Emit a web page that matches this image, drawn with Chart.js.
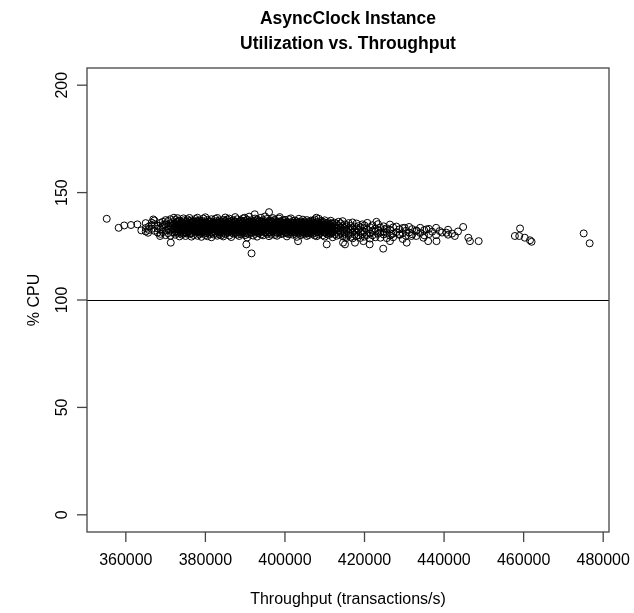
<!DOCTYPE html>
<html>
<head>
<meta charset="utf-8">
<script src="https://cdn.jsdelivr.net/npm/chart.js@4/dist/chart.umd.min.js"></script>
<style>
html,body{margin:0;padding:0;background:#fff;}
canvas{display:block;}
</style>
</head>
<body>
<canvas id="c" width="634" height="613"></canvas>
<script>
// ---- Data (throughput in thousands of transactions/s, CPU in %) ----
const titleLines = ["AsyncClock Instance", "Utilization vs. Throughput"];
const xAxisTitle = "Throughput (transactions/s)";
const yAxisTitle = "% CPU";
const xTickValues = [360000, 380000, 400000, 420000, 440000, 460000, 480000];
const yTickValues = [0, 50, 100, 150, 200];
const referenceCpu = 100;

// Isolated / edge samples: throughput (k tx/s)
const outlierThroughputK = [355.2, 358.2, 359.6, 361.3, 362.9, 363.9, 365.6, 366.9, 368.6, 371.3, 369.8, 372.1,
  391.6, 390.3, 396.0, 392.4, 389.9, 398.7, 403.3, 407.9, 410.5, 414.6, 415.1,
  424.7, 415.1, 417.6, 421.3, 423.0, 430.6, 431.8, 433.1, 435.6, 436.0, 438.1, 438.9, 440.6, 442.7, 444.8,
  434.8, 428.9, 430.1, 426.8, 425.1, 419.7, 426.4, 446.1,
  446.5, 448.7, 459.1, 457.8, 458.9, 460.3, 461.6, 462.0, 475.1, 476.6];
// Isolated / edge samples: CPU (%)
const outlierCpu = [137.8, 133.6, 134.7, 134.9, 135.2, 132.4, 131.3, 137.5, 129.8, 126.7, 135.2, 138.3,
  121.7, 125.9, 140.9, 139.9, 138.3, 138.6, 127.4, 138.3, 125.9, 126.7, 129.3,
  123.9, 125.9, 126.7, 125.9, 136.4, 126.7, 129.8, 132.1, 132.9, 127.4, 127.4, 132.1, 131.3, 129.8, 134.0,
  129.0, 130.6, 133.6, 130.6, 132.9, 127.4, 127.4, 129.0,
  127.4, 127.4, 133.3, 129.8, 129.8, 129.0, 127.8, 127.1, 131.0, 126.4];

// Main cloud: each row = [throughput (k tx/s), CPU %, CPU %, ...]
const cloudRows = [
  [365.0, 133.5, 135.8, 131.9],
  [365.8, 134.2, 132.6],
  [366.5, 136.0, 133.1, 134.8],
  [367.2, 132.2, 135.3, 137.0],
  [368.0, 134.6, 131.4, 133.3],
  [368.7, 135.9, 132.8, 130.8],
  [369.3, 133.9, 136.4, 131.6, 134.9],
  [370.0, 132.4, 135.1, 137.2, 130.2],
  [370.6, 134.3, 136.8, 131.1, 133.0],
  [371.2, 135.7, 132.7, 129.9, 134.6, 137.6],
  [371.8, 133.6, 131.5, 136.1, 134.9],
  [372.4, 130.4, 135.2, 137.3, 132.9, 134.1],
  [373.0, 133.4, 136.5, 131.2, 138.1, 134.7],
  [373.5, 129.6, 132.5, 135.6, 133.9, 137.0],
  [374.0, 134.2, 131.7, 136.3, 130.5, 133.1],
  [374.5, 135.4, 132.9, 138.0, 134.5, 130.9, 137.1],
  [375.0, 133.7, 131.3, 136.0, 134.8, 129.8, 132.4],
  [375.5, 137.5, 134.1, 131.9, 135.7, 133.0],
  [376.0, 130.7, 133.5, 136.8, 132.1, 134.9, 138.2],
  [376.5, 134.4, 131.0, 135.9, 133.2, 137.0, 129.5],
  [377.0, 132.8, 135.5, 130.3, 134.0, 136.6, 133.1],
  [377.5, 131.6, 137.7, 134.7, 132.4, 135.2],
  [378.0, 133.9, 129.9, 136.4, 131.8, 134.5, 138.3],
  [378.5, 135.8, 132.2, 130.6, 134.2, 137.1, 133.4],
  [379.0, 131.3, 134.8, 136.9, 133.0, 129.4, 135.6],
  [379.5, 133.6, 137.9, 131.9, 134.9, 132.6],
  [380.0, 136.2, 130.2, 133.3, 135.1, 132.0, 138.5],
  [380.5, 134.0, 131.2, 137.3, 133.7, 135.8, 129.7],
  [381.0, 132.5, 135.4, 130.8, 134.6, 136.7, 133.1],
  [381.5, 137.6, 133.9, 131.6, 135.0, 129.2],
  [382.0, 134.3, 136.3, 132.2, 130.5, 135.7, 133.4],
  [382.5, 131.0, 133.8, 137.8, 135.3, 132.7, 134.7],
  [383.0, 136.0, 129.9, 134.1, 132.0, 138.2, 133.3],
  [383.5, 133.0, 135.9, 131.4, 134.8, 137.0, 130.4],
  [384.0, 134.5, 132.4, 136.6, 130.1, 133.6, 135.2],
  [384.5, 131.8, 137.3, 134.0, 135.7, 132.9, 129.6],
  [385.0, 135.4, 133.2, 130.7, 136.9, 134.3, 138.4],
  [385.5, 132.6, 134.9, 137.5, 131.2, 133.7, 135.8],
  [386.0, 130.0, 136.2, 133.1, 134.6, 132.0, 137.9],
  [386.5, 134.8, 131.5, 135.5, 133.4, 129.3, 136.7],
  [387.0, 133.0, 137.2, 130.9, 134.2, 135.9, 132.3],
  [387.5, 136.4, 132.8, 134.7, 131.1, 138.6, 133.6],
  [388.0, 131.7, 135.0, 133.3, 137.6, 130.4, 134.4],
  [388.5, 134.1, 129.8, 136.1, 132.5, 135.4, 133.0],
  [389.0, 137.0, 133.8, 131.3, 135.6, 134.6, 130.6],
  [389.5, 132.1, 136.5, 134.0, 138.0, 131.9, 133.4],
  [390.0, 135.2, 130.2, 133.6, 136.9, 132.6, 134.8],
  [390.5, 133.1, 137.4, 131.0, 134.4, 135.9, 129.1],
  [391.0, 136.3, 132.3, 134.9, 130.6, 133.7, 138.8],
  [391.5, 131.4, 135.5, 133.3, 137.1, 134.2, 132.7],
  [392.0, 134.6, 130.0, 136.6, 132.9, 135.1, 133.8],
  [392.5, 137.9, 133.5, 131.7, 135.7, 134.1, 130.8],
  [393.0, 132.4, 136.1, 134.4, 129.5, 133.0, 137.5],
  [393.5, 135.3, 131.1, 133.9, 136.8, 132.0, 134.7],
  [394.0, 133.2, 138.3, 130.5, 134.9, 135.8, 131.9],
  [394.5, 136.4, 132.7, 134.3, 137.2, 133.5, 130.1],
  [395.0, 131.5, 135.6, 133.1, 136.0, 134.6, 138.9],
  [395.5, 134.0, 130.8, 137.7, 132.3, 135.3, 133.6],
  [396.0, 136.9, 133.3, 131.6, 134.8, 129.7, 135.9],
  [396.5, 132.6, 137.0, 134.2, 130.4, 136.3, 133.7],
  [397.0, 135.1, 131.9, 133.9, 138.1, 132.2, 134.5],
  [397.5, 133.5, 136.7, 130.3, 135.4, 134.0, 137.4],
  [398.0, 131.2, 134.6, 136.2, 132.8, 133.2, 129.9],
  [398.5, 136.0, 133.0, 135.0, 131.4, 137.9, 134.3],
  [399.0, 132.5, 135.7, 133.8, 130.7, 136.5, 134.9],
  [399.5, 134.4, 130.9, 137.1, 133.3, 132.0, 135.6],
  [400.0, 137.3, 132.9, 134.7, 131.6, 135.2, 133.6],
  [400.5, 131.0, 135.8, 133.0, 136.4, 129.6, 134.1],
  [401.0, 134.5, 132.3, 137.6, 130.6, 133.9, 135.4],
  [401.5, 133.1, 136.1, 131.8, 134.8, 132.5, 138.0],
  [402.0, 135.9, 130.4, 133.4, 132.1, 136.8, 134.2],
  [402.5, 131.7, 134.9, 137.0, 133.5, 130.9, 135.5],
  [403.0, 134.0, 132.6, 135.3, 129.4, 133.2, 136.6],
  [403.5, 136.3, 131.3, 133.7, 134.6, 137.8, 132.2],
  [404.0, 132.8, 135.1, 130.2, 133.9, 136.0, 134.4],
  [404.5, 134.7, 137.4, 131.9, 135.6, 132.4, 130.7],
  [405.0, 130.9, 133.6, 136.5, 132.0, 134.8, 135.7],
  [405.5, 135.2, 131.5, 133.1, 137.2, 134.0, 129.8],
  [406.0, 133.4, 136.2, 132.7, 130.3, 135.5, 134.6],
  [406.5, 131.1, 134.3, 137.0, 133.0, 136.4, 132.4],
  [407.0, 136.9, 132.9, 135.0, 130.8, 133.8, 134.9],
  [407.5, 133.2, 130.0, 135.9, 132.2, 137.5, 134.1],
  [408.0, 135.6, 131.6, 133.9, 136.3, 129.7, 132.8],
  [408.5, 132.3, 134.8, 130.5, 135.3, 133.4, 137.8],
  [409.0, 134.2, 136.8, 132.0, 131.2, 135.0, 133.1],
  [409.5, 130.1, 133.7, 135.8, 132.6, 134.5, 136.5],
  [410.0, 133.0, 131.4, 135.4, 129.5, 134.0, 137.1],
  [410.5, 135.9, 132.5, 130.8, 134.7, 133.3],
  [411.0, 131.9, 134.4, 136.2, 132.8, 130.3],
  [411.5, 134.9, 130.9, 133.5, 136.9, 132.1],
  [412.0, 132.7, 135.5, 131.3, 134.1, 129.2],
  [412.5, 130.6, 133.9, 136.0, 132.3, 134.8],
  [413.0, 135.2, 131.8, 133.1, 129.9],
  [413.5, 132.5, 134.6, 130.4, 136.4, 133.6],
  [414.0, 131.2, 133.8, 135.7, 132.0],
  [414.5, 134.3, 129.7, 132.9, 136.7],
  [415.0, 130.8, 133.4, 135.1, 131.6],
  [415.5, 132.6, 134.9, 128.9, 133.9],
  [416.0, 135.8, 131.1, 133.0, 130.2],
  [416.5, 132.9, 129.4, 134.5],
  [417.0, 131.5, 133.6, 136.1, 128.7],
  [417.5, 134.2, 130.5, 132.3],
  [418.0, 129.9, 133.1, 135.6, 131.9],
  [418.5, 132.7, 130.1, 134.4],
  [419.0, 131.3, 133.8, 128.9],
  [419.5, 135.2, 132.0, 130.7],
  [420.0, 133.5, 129.5, 131.6, 134.7],
  [420.7, 130.3, 132.8, 135.9],
  [421.4, 133.9, 131.0, 128.6],
  [422.0, 132.3, 134.8, 130.1],
  [422.7, 129.2, 133.2, 131.8],
  [423.4, 135.3, 130.8, 132.6],
  [424.0, 131.4, 133.7, 129.0],
  [424.8, 134.3, 130.5, 132.0],
  [425.6, 131.2, 133.4, 128.8],
  [426.4, 132.7, 135.1, 130.0],
  [427.2, 133.8, 130.9, 129.2],
  [428.0, 131.6, 134.2],
  [428.8, 130.3, 132.9],
  [429.6, 133.5, 131.1, 128.4],
  [430.4, 132.2, 129.9],
  [431.2, 134.0, 131.4],
  [432.0, 130.6, 133.0],
  [433.0, 132.4, 129.8],
  [434.0, 131.2, 133.6],
  [435.0, 130.1, 132.5],
  [436.2, 133.1, 130.7],
  [437.0, 131.8],
  [438.0, 133.6, 130.2],
  [439.5, 131.4],
  [441.0, 132.7, 130.4],
  [442.0, 130.9],
  [443.5, 131.9]
];

// Densest core of the cloud: each row = [throughput (k tx/s), CPU %, ...]
const coreRows = [
  [372.25, 133.2, 135.6, 131.4, 134.4], [372.75, 134.9, 132.1, 136.3, 133.7],
  [373.25, 131.8, 134.1, 136.9, 132.9], [373.75, 135.1, 133.0, 131.2, 134.6],
  [374.25, 133.6, 136.1, 132.3, 134.9], [374.75, 131.5, 133.9, 135.7, 132.6],
  [375.25, 134.5, 136.6, 133.2, 130.9], [375.75, 132.8, 135.2, 134.0, 131.7],
  [376.25, 136.0, 133.4, 131.3, 134.7], [376.75, 132.4, 134.3, 136.4, 133.1],
  [377.25, 135.5, 131.9, 133.8, 134.9], [377.75, 133.0, 136.8, 132.2, 134.4],
  [378.25, 131.6, 135.0, 133.5, 136.2], [378.75, 134.7, 132.5, 136.5, 131.2],
  [379.25, 133.3, 135.9, 132.0, 134.3], [379.75, 136.1, 130.9, 134.6, 133.4],
  [380.25, 132.3, 134.9, 133.9, 135.6], [380.75, 135.1, 133.0, 131.7, 136.6],
  [381.25, 134.0, 136.3, 132.6, 133.3], [381.75, 131.3, 134.5, 136.0, 132.9],
  [382.25, 135.5, 133.2, 131.9, 134.8], [382.75, 133.9, 136.7, 132.4, 135.2],
  [383.25, 131.7, 134.6, 135.9, 133.6], [383.75, 136.3, 132.8, 134.3, 131.5],
  [384.25, 133.3, 135.5, 131.2, 134.9], [384.75, 134.8, 133.1, 136.2, 132.2],
  [385.25, 132.0, 134.4, 135.7, 133.8], [385.75, 136.5, 131.6, 134.0, 133.2],
  [386.25, 133.7, 135.3, 132.5, 134.7], [386.75, 131.9, 136.0, 133.3, 135.0],
  [387.25, 134.6, 132.2, 136.7, 133.8], [387.75, 135.3, 133.0, 131.4, 134.2],
  [388.25, 132.7, 136.3, 134.9, 133.5], [388.75, 136.8, 131.8, 133.9, 135.3],
  [389.25, 133.1, 134.7, 132.3, 136.1], [389.75, 134.9, 135.6, 130.9, 133.7],
  [390.25, 131.7, 133.4, 136.0, 134.5], [390.75, 135.8, 132.9, 134.2, 133.1],
  [391.25, 133.6, 136.6, 131.5, 134.8], [391.75, 132.4, 135.1, 133.9, 136.3],
  [392.25, 136.0, 133.2, 131.9, 134.6], [392.75, 133.9, 132.1, 135.6, 134.3],
  [393.25, 131.3, 134.9, 136.4, 133.4], [393.75, 134.2, 132.6, 135.4, 133.0],
  [394.25, 136.7, 133.8, 131.8, 134.5], [394.75, 132.9, 135.2, 133.6, 136.0],
  [395.25, 134.4, 131.6, 135.9, 133.1], [395.75, 133.3, 136.2, 132.3, 134.8],
  [396.25, 135.5, 133.6, 131.3, 134.1], [396.75, 131.9, 134.6, 136.5, 133.0],
  [397.25, 134.9, 132.6, 135.6, 133.7], [397.75, 136.1, 133.2, 131.7, 134.4],
  [398.25, 133.5, 135.3, 132.1, 134.7], [398.75, 131.6, 134.2, 136.6, 133.3],
  [399.25, 135.1, 133.0, 134.5, 131.9], [399.75, 133.7, 136.0, 132.4, 134.9],
  [400.25, 134.3, 131.4, 135.6, 133.1], [400.75, 132.6, 134.9, 133.6, 136.1],
  [401.25, 135.3, 132.9, 131.5, 134.2], [401.75, 133.4, 135.7, 132.2, 134.5],
  [402.25, 131.6, 134.0, 136.0, 133.0], [402.75, 134.7, 132.5, 135.3, 133.7],
  [403.25, 133.0, 135.9, 131.7, 134.4], [403.75, 135.0, 132.8, 133.9, 131.2],
  [404.25, 131.9, 134.6, 136.3, 133.3], [404.75, 133.6, 131.3, 135.2, 134.0],
  [405.25, 134.4, 132.7, 135.8, 133.0], [405.75, 132.0, 134.9, 133.5, 131.1],
  [406.25, 135.3, 133.2, 131.6, 134.5], [406.75, 133.7, 135.7, 132.3, 134.1],
  [407.25, 131.3, 134.3, 133.0, 135.9], [407.75, 134.8, 132.6, 135.2, 133.5],
  [408.25, 133.1, 131.5, 134.6, 135.5], [408.75, 135.7, 133.8, 131.9, 132.9],
  [409.25, 132.4, 134.9, 133.4, 136.0], [409.75, 134.2, 131.7, 135.1, 133.0],
  [410.25, 132.1, 134.6, 133.5, 131.3], [410.75, 133.8, 135.4, 132.3, 134.5],
  [411.25, 131.0, 133.4, 135.0, 132.6], [411.75, 134.1, 132.2, 133.7, 135.6]
];

// ---- Build points from the arrays ----
const scatterPoints = [];
cloudRows.concat(coreRows).forEach(row => {
  for (let i = 1; i < row.length; i++) scatterPoints.push({x: row[0] * 1000, y: row[i]});
});
outlierThroughputK.forEach((k, i) => scatterPoints.push({x: k * 1000, y: outlierCpu[i]}));

const FONT = '"Liberation Sans", Arial, Helvetica, sans-serif';

const rAxesPlugin = {
  id: 'rAxes',
  beforeDatasetsDraw(chart) {
    const {ctx, chartArea: a, scales: {y}} = chart;
    ctx.save();
    const yr = Math.round(y.getPixelForValue(referenceCpu)) + 0.5;
    ctx.strokeStyle = '#000';
    ctx.lineWidth = 1;
    ctx.beginPath();
    ctx.moveTo(a.left, yr);
    ctx.lineTo(a.right, yr);
    ctx.stroke();
    ctx.restore();
  },
  afterDraw(chart) {
    const {ctx, chartArea: a, scales: {x, y}} = chart;
    ctx.save();
    ctx.strokeStyle = '#444';
    ctx.lineWidth = 1.3;
    ctx.strokeRect(a.left, a.top, a.right - a.left, a.bottom - a.top);
    ctx.fillStyle = '#000';
    ctx.font = '16px ' + FONT;
    ctx.textAlign = 'center';
    ctx.textBaseline = 'alphabetic';
    xTickValues.forEach(v => {
      const px = x.getPixelForValue(v);
      ctx.beginPath();
      ctx.moveTo(px, a.bottom);
      ctx.lineTo(px, a.bottom + 10);
      ctx.stroke();
      ctx.fillText(String(v), px, 565);
    });
    yTickValues.forEach(v => {
      const py = y.getPixelForValue(v);
      ctx.beginPath();
      ctx.moveTo(a.left, py);
      ctx.lineTo(a.left - 10, py);
      ctx.stroke();
      ctx.save();
      ctx.translate(66.5, py);
      ctx.rotate(-Math.PI / 2);
      ctx.fillText(String(v), 0, 0);
      ctx.restore();
    });
    const cx = (a.left + a.right) / 2;
    const cy = (a.top + a.bottom) / 2;
    ctx.fillText(xAxisTitle, cx, 604);
    ctx.save();
    ctx.translate(39, cy);
    ctx.rotate(-Math.PI / 2);
    ctx.fillText(yAxisTitle, 0, 0);
    ctx.restore();
    ctx.font = 'bold 17.5px ' + FONT;
    ctx.fillText(titleLines[0], cx, 24);
    ctx.fillText(titleLines[1], cx, 49);
    ctx.restore();
  }
};

new Chart(document.getElementById('c'), {
  type: 'scatter',
  data: {
    datasets: [{
      data: scatterPoints,
      pointStyle: 'circle',
      pointRadius: 3.5,
      pointHoverRadius: 3.5,
      pointBorderWidth: 1,
      pointBorderColor: '#000',
      pointBackgroundColor: 'rgba(0,0,0,0)',
      showLine: false
    }]
  },
  options: {
    responsive: false,
    animation: false,
    devicePixelRatio: 1,
    layout: {padding: {left: 87, top: 68, right: 25, bottom: 81}},
    plugins: {legend: {display: false}, tooltip: {enabled: false}, title: {display: false}},
    events: [],
    scales: {
      x: {type: 'linear', min: 350240, max: 481460, display: false},
      y: {type: 'linear', min: -8, max: 208, display: false}
    }
  },
  plugins: [rAxesPlugin]
});
</script>
</body>
</html>
